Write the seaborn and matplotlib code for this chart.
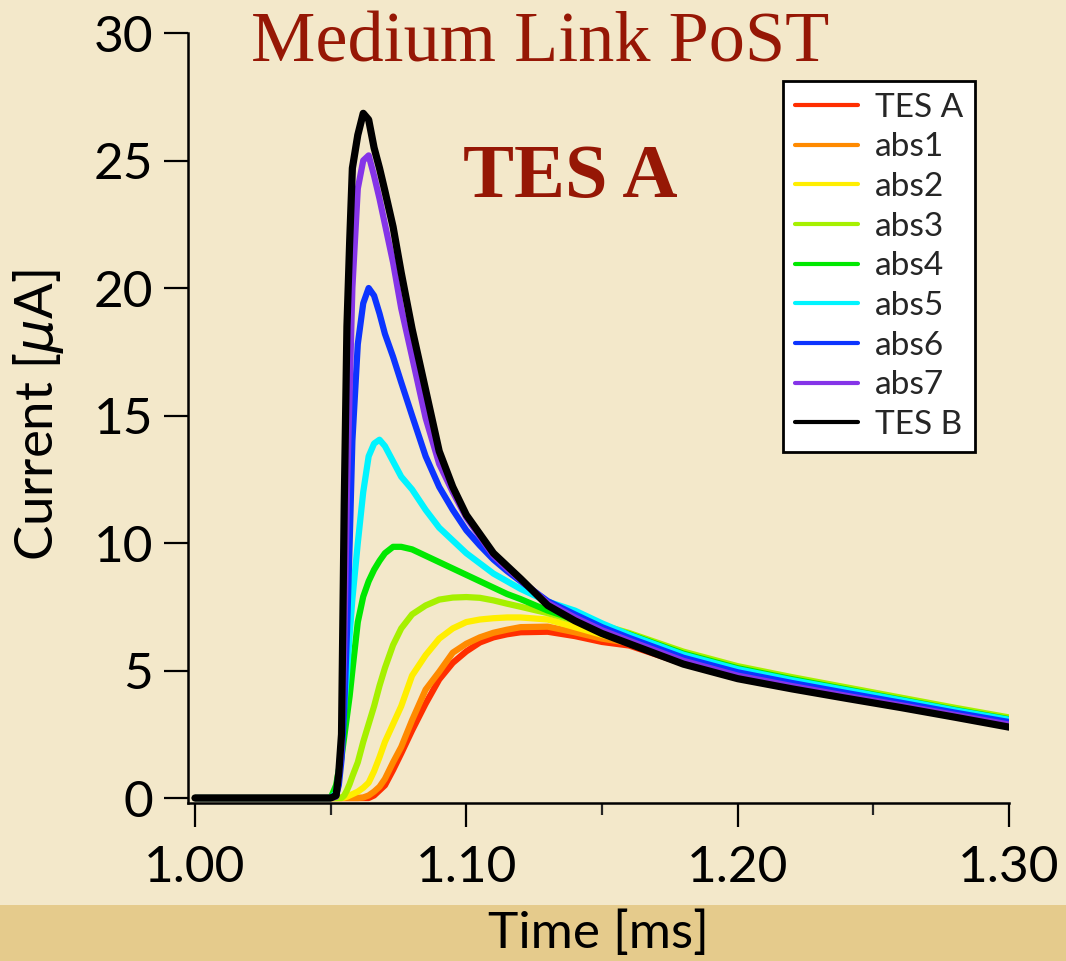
import matplotlib
matplotlib.use("Agg")
import matplotlib.pyplot as plt
from matplotlib.lines import Line2D
from matplotlib.patches import Rectangle
from matplotlib.ticker import FixedLocator
import pandas as pd
import seaborn as sns

# Time axis shared by all traces [ms]
time_ms = [1.000, 1.050, 1.052, 1.053, 1.054, 1.055, 1.056, 1.057, 1.058, 1.060,
           1.062, 1.064, 1.066, 1.068, 1.070, 1.073, 1.076, 1.080, 1.085, 1.090,
           1.095, 1.100, 1.105, 1.110, 1.115, 1.120, 1.130, 1.140, 1.150, 1.160,
           1.180, 1.200, 1.220, 1.240, 1.260, 1.280, 1.300]

# Current pulses [uA], one list per absorber position
tes_a = [0, 0, 0, 0, 0, 0, 0, 0, 0, 0,
         0, 0, 0.1, 0.3, 0.5, 1.1, 1.75, 2.65, 3.7, 4.65,
         5.3, 5.75, 6.1, 6.3, 6.42, 6.5, 6.52, 6.35, 6.12, 5.98,
         5.27, 4.70, 4.30, 3.93, 3.57, 3.19, 2.80]
abs1 = [0, 0, 0, 0, 0, 0, 0, 0, 0, 0,
        0.02, 0.1, 0.25, 0.44, 0.75, 1.4, 2.0, 3.05, 4.25, 4.95,
        5.7, 6.05, 6.3, 6.48, 6.6, 6.7, 6.72, 6.5, 6.25, 6.08,
        5.29, 4.72, 4.32, 3.95, 3.59, 3.21, 2.82]
abs2 = [0, 0, 0, 0, 0, 0.02, 0.05, 0.1, 0.15, 0.25,
        0.4, 0.6, 1.05, 1.6, 2.2, 2.9, 3.6, 4.8, 5.6, 6.25,
        6.65, 6.9, 7.0, 7.05, 7.08, 7.08, 7.0, 6.7, 6.4, 6.12,
        5.31, 4.74, 4.34, 3.97, 3.61, 3.23, 2.84]
abs3 = [0, 0, 0, 0, 0, 0.1, 0.3, 0.55, 0.85, 1.4,
        2.2, 2.9, 3.6, 4.4, 5.1, 6.0, 6.65, 7.2, 7.55, 7.78,
        7.86, 7.88, 7.85, 7.75, 7.62, 7.5, 7.25, 6.95, 6.78, 6.47,
        5.74, 5.17, 4.74, 4.34, 3.94, 3.54, 3.16]
abs4 = [0, 0, 0.5, 1.1, 1.6, 2.4, 3.2, 4.0, 5.0, 6.9,
        7.9, 8.5, 8.95, 9.3, 9.6, 9.85, 9.85, 9.75, 9.5, 9.25,
        9.0, 8.75, 8.5, 8.25, 8.0, 7.8, 7.35, 7.0, 6.75, 6.42,
        5.66, 5.09, 4.66, 4.26, 3.86, 3.46, 3.09]
abs5 = [0, 0, 0.2, 1.0, 2.2, 3.6, 4.9, 6.4, 7.8, 10.0,
        12.0, 13.4, 13.9, 14.05, 13.8, 13.2, 12.6, 12.1, 11.3, 10.6,
        10.1, 9.6, 9.2, 8.8, 8.5, 8.2, 7.7, 7.35, 6.85, 6.4,
        5.62, 5.05, 4.62, 4.23, 3.84, 3.44, 3.07]
abs6 = [0, 0, 0.1, 0.5, 1.5, 3.5, 6.5, 10.0, 14.0, 17.8,
        19.4, 20.0, 19.7, 19.0, 18.2, 17.3, 16.3, 15.0, 13.4, 12.2,
        11.3, 10.5, 9.9, 9.35, 8.9, 8.5, 7.72, 7.2, 6.7, 6.28,
        5.50, 4.93, 4.51, 4.12, 3.74, 3.35, 2.98]
abs7 = [0, 0, 0.05, 0.8, 2.0, 6.0, 12.0, 16.0, 20.0, 23.9,
        25.0, 25.2, 24.4, 23.5, 22.5, 21.0, 19.2, 17.3, 14.9, 13.1,
        12.0, 11.0, 10.25, 9.5, 9.0, 8.55, 7.65, 7.08, 6.58, 6.17,
        5.38, 4.80, 4.39, 4.01, 3.64, 3.26, 2.88]
tes_b = [0, 0, 0.1, 1.0, 2.5, 11.5, 18.5, 21.8, 24.7, 26.0,
         26.85, 26.6, 25.5, 24.7, 23.8, 22.4, 20.6, 18.4, 16.0, 13.6,
         12.2, 11.1, 10.35, 9.6, 9.1, 8.6, 7.55, 6.95, 6.45, 6.05,
         5.25, 4.68, 4.28, 3.91, 3.55, 3.17, 2.78]

labels = ["TES A", "abs1", "abs2", "abs3", "abs4", "abs5", "abs6", "abs7", "TES B"]
colors = ["#ff2e00", "#ff8a00", "#ffee00", "#a6f000", "#00e800",
          "#00f4ff", "#0c34ff", "#8534e8", "#000000"]
x_ticks = [1.00, 1.10, 1.20, 1.30]
x_tick_labels = ["1.00", "1.10", "1.20", "1.30"]
y_ticks = [0, 5, 10, 15, 20, 25, 30]

traces = dict(zip(labels, [tes_a, abs1, abs2, abs3, abs4, abs5, abs6, abs7, tes_b]))
wide = pd.DataFrame({"time": time_ms, **traces})
long = wide.melt(id_vars="time", var_name="trace", value_name="current")

sns.set_theme(style="ticks")
plt.rcParams["font.family"] = ["Lato", "DejaVu Sans"]
plt.rcParams["mathtext.fontset"] = "dejavusans"

BG = "#f3e8ca"
BAND = "#e5cb8c"
TITLE_RED = "#961705"

W, H = 1066, 961
fig = plt.figure(figsize=(W / 100, H / 100), dpi=100, facecolor=BG)
# darker strip along the bottom edge, kept behind the axes and labels
fig.patches.append(Rectangle((0, 0), 1, 56 / H, transform=fig.transFigure,
                             facecolor=BAND, edgecolor="none", zorder=-1))
ax = fig.add_axes([188 / W, 158 / H, 821 / W, 770 / H])
ax.set_facecolor("none")

sns.lineplot(data=long, x="time", y="current", hue="trace", hue_order=labels,
             palette=colors, linewidth=4.5, estimator=None, legend=False, ax=ax)
ax.lines[-1].set_linewidth(5.2)
for ln in ax.lines:
    ln.set_solid_joinstyle("round")

ax.set_xlim(0.99742, 1.30)
ax.set_ylim(-0.196, 30)
ax.set_xticks(x_ticks)
ax.set_xticklabels(x_tick_labels)
ax.xaxis.set_minor_locator(FixedLocator([1.05, 1.15, 1.25]))
ax.set_yticks(y_ticks)
ax.set_yticklabels([str(v) for v in y_ticks])
ax.tick_params(axis="both", which="major", direction="out", length=17, width=1.6,
               labelsize=37, colors="black", pad=8)
ax.tick_params(axis="x", which="major", pad=13)
ax.tick_params(axis="x", which="minor", direction="out", length=8.6, width=1.6)
for s in ["top", "right"]:
    ax.spines[s].set_visible(False)
for s in ["left", "bottom"]:
    ax.spines[s].set_linewidth(1.8)
    ax.spines[s].set_color("black")

ax.set_xlabel("Time [ms]", fontsize=37, color="black")
ax.xaxis.set_label_coords(0.5, -0.139)
ax.set_ylabel(r"Current [$\mu$A]", fontsize=38, color="black")
ax.yaxis.set_label_coords(-0.1486, 0.504)

fig.text(540 / W, 1 - 62 / H, "Medium Link PoST", ha="center", va="baseline",
         fontsize=52, family="Liberation Serif", color=TITLE_RED)
fig.text(570 / W, 1 - 197 / H, "TES A", ha="center", va="baseline",
         fontsize=55, fontweight="bold", family="Liberation Serif", color=TITLE_RED)

handles = [Line2D([0], [0], color=c, lw=3) for c in colors]
leg = ax.legend(handles, labels, loc="upper right",
                bbox_to_anchor=(975 / W, 1 - 81 / H), bbox_transform=fig.transFigure,
                frameon=True, fancybox=False, edgecolor="black", facecolor="white",
                framealpha=1, fontsize=24, handlelength=1.9, handletextpad=0.5,
                labelspacing=0.29, borderpad=0.35, borderaxespad=0)
leg.get_frame().set_linewidth(2)

fig.savefig("out.png", dpi=100, facecolor=BG)
